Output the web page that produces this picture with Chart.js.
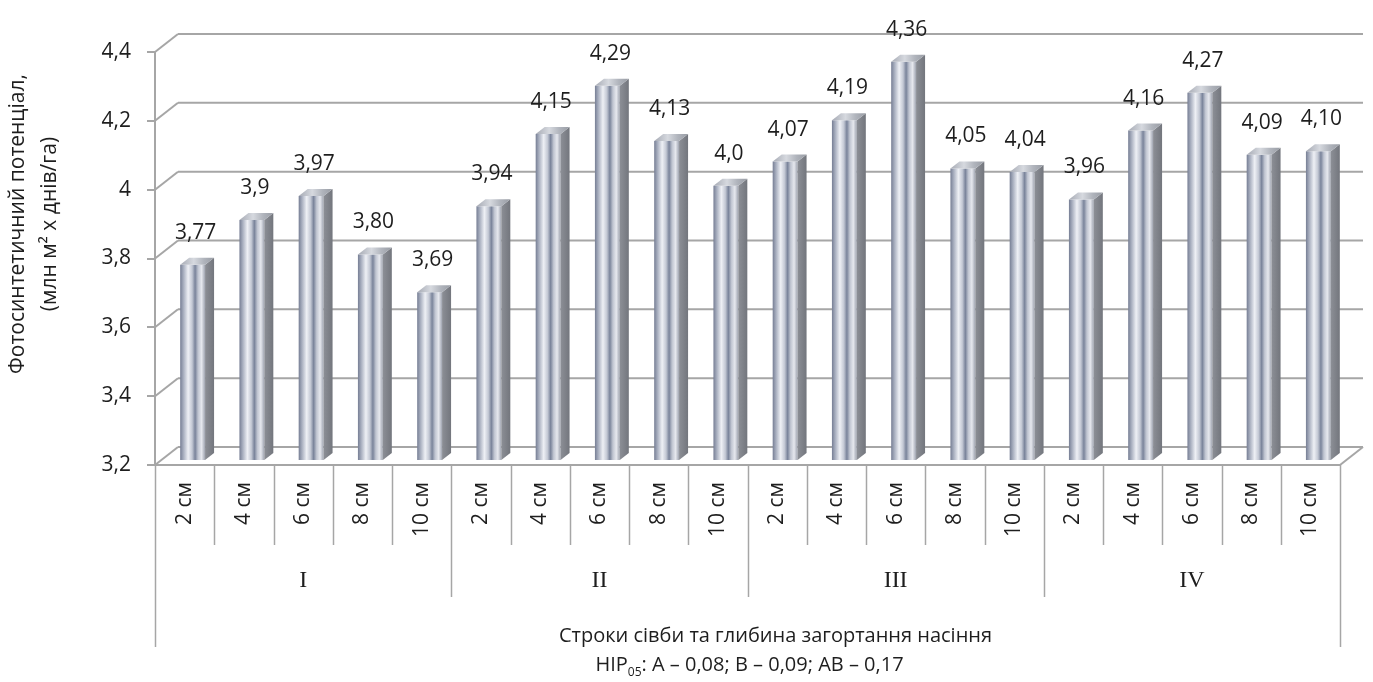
<!DOCTYPE html>
<html>
<head>
<meta charset="utf-8">
<script src="https://cdn.jsdelivr.net/npm/chart.js@4.4.1/dist/chart.umd.min.js"></script>
<style>
html,body{margin:0;padding:0;background:#fff;}
#wrap{width:1373px;height:682px;position:relative;}
</style>
</head>
<body>
<div id="wrap"><canvas id="c" width="1373" height="682"></canvas></div>
<script>
// ---------- DATA ----------
const depths = ['2 см', '4 см', '6 см', '8 см', '10 см'];
const sowingTerms = ['I', 'II', 'III', 'IV'];
const categories = sowingTerms.flatMap(() => depths);
const values = [3.77, 3.90, 3.97, 3.80, 3.69,
                3.94, 4.15, 4.29, 4.13, 4.00,
                4.07, 4.19, 4.36, 4.05, 4.04,
                3.96, 4.16, 4.27, 4.09, 4.10];
const valueLabels = ['3,77', '3,9', '3,97', '3,80', '3,69',
                     '3,94', '4,15', '4,29', '4,13', '4,0',
                     '4,07', '4,19', '4,36', '4,05', '4,04',
                     '3,96', '4,16', '4,27', '4,09', '4,10'];
const yMin = 3.2, yMax = 4.4, yStep = 0.2;
const yTickLabels = ['3,2', '3,4', '3,6', '3,8', '4', '4,2', '4,4'];
const yTitle = ['Фотосинтетичний потенціал,', '(млн м² х днів/га)'];
const xTitle = 'Строки сівби та глибина загортання насіння';
const lsdParts = ['НІР', '05', ': А – 0,08; В – 0,09; АВ – 0,17'];

// ---------- STYLE ----------
const FONT = '"Open Sans", "Noto Sans", sans-serif';
const SERIF = '"Liberation Serif", "DejaVu Serif", serif';
const TXT = '#1e1e1e';
const GRID = '#a6a6a6';
const WALL = {dx: 23, dy: -18};
const BAR3D = {dx: 9, dy: -7};
const SHIFT = {dx: 8, dy: -4};
const BAR_PCT = 0.42;

function frontGradient(ctx, l, r) {
  const g = ctx.createLinearGradient(l, 0, r, 0);
  g.addColorStop(0.00, '#767e94');
  g.addColorStop(0.12, '#a3aabb');
  g.addColorStop(0.32, '#eef0f5');
  g.addColorStop(0.48, '#c3c8d4');
  g.addColorStop(0.60, '#79839a');
  g.addColorStop(0.72, '#c0c5d1');
  g.addColorStop(0.86, '#e6e8ee');
  g.addColorStop(1.00, '#9fa4b0');
  return g;
}

function line(ctx, x1, y1, x2, y2) {
  ctx.beginPath(); ctx.moveTo(x1, y1); ctx.lineTo(x2, y2); ctx.stroke();
}

const excel3d = {
  id: 'excel3d',
  beforeDatasetsDraw(chart) {
    const {ctx, chartArea: a, scales: {x, y}} = chart;
    ctx.save();
    ctx.strokeStyle = GRID;
    ctx.lineWidth = 2;
    // back wall gridlines + side wall diagonals
    y.ticks.forEach(t => {
      const yy = y.getPixelForValue(t.value);
      line(ctx, a.left, yy, a.left + WALL.dx, yy + WALL.dy);
      line(ctx, a.left + WALL.dx, yy + WALL.dy, a.right + WALL.dx, yy + WALL.dy);
    });
    // floor front edge + right edge
    line(ctx, a.left, a.bottom, a.right, a.bottom);
    line(ctx, a.right, a.bottom, a.right + WALL.dx, a.bottom + WALL.dy);
    // category table lines
    const n = categories.length;
    const cw = (a.right - a.left) / n;
    ctx.lineWidth = 1.5;
    for (let i = 0; i <= n; i++) {
      const xx = Math.round(a.left + i * cw) + 0.5;
      let bottom = a.bottom + 80;
      if (i % depths.length === 0) bottom = a.bottom + 132;
      if (i === 0 || i === n) bottom = a.bottom + 182;
      line(ctx, xx, a.bottom, xx, bottom);
    }
    ctx.restore();
    ctx.save();
    ctx.translate(SHIFT.dx, SHIFT.dy);
  },
  afterDatasetsDraw(chart) {
    const {ctx} = chart;
    const meta = chart.getDatasetMeta(0);
    meta.data.forEach(el => {
      const l = el.x - el.width / 2, r = el.x + el.width / 2;
      const top = el.y, bot = el.base;
      // side face
      const gs = ctx.createLinearGradient(r, 0, r + BAR3D.dx, 0);
      gs.addColorStop(0, '#8c8f96');
      gs.addColorStop(1, '#73767d');
      ctx.fillStyle = gs;
      ctx.beginPath();
      ctx.moveTo(r, top); ctx.lineTo(r + BAR3D.dx, top + BAR3D.dy);
      ctx.lineTo(r + BAR3D.dx, bot + BAR3D.dy); ctx.lineTo(r, bot);
      ctx.closePath(); ctx.fill();
      // top face
      const gt = ctx.createLinearGradient(l, 0, r + BAR3D.dx, 0);
      gt.addColorStop(0, '#a6aab4');
      gt.addColorStop(0.4, '#d6d9df');
      gt.addColorStop(0.7, '#b0b4bc');
      gt.addColorStop(1, '#989ca4');
      ctx.fillStyle = gt;
      ctx.beginPath();
      ctx.moveTo(l, top); ctx.lineTo(l + BAR3D.dx, top + BAR3D.dy);
      ctx.lineTo(r + BAR3D.dx, top + BAR3D.dy); ctx.lineTo(r, top);
      ctx.closePath(); ctx.fill();
    });
    ctx.restore();
    // value labels
    ctx.save();
    ctx.fillStyle = TXT;
    ctx.font = '21px ' + FONT;
    ctx.textAlign = 'center';
    ctx.textBaseline = 'middle';
    meta.data.forEach((el, i) => {
      ctx.fillText(valueLabels[i], el.x + SHIFT.dx + 3, el.y + SHIFT.dy - 32);
    });
    ctx.restore();
  },
  afterDraw(chart) {
    const {ctx, chartArea: a, scales: {x}} = chart;
    ctx.save();
    ctx.fillStyle = TXT;
    ctx.textBaseline = 'middle';
    ctx.textAlign = 'center';
    // group labels
    ctx.font = '24px ' + SERIF;
    sowingTerms.forEach((g, gi) => {
      const x1 = x.getPixelForValue(gi * depths.length);
      const x2 = x.getPixelForValue(gi * depths.length + depths.length - 1);
      ctx.fillText(g, (x1 + x2) / 2, a.bottom + 116);
    });
    // y title
    ctx.font = '21px ' + FONT;
    ctx.save();
    ctx.translate(18, 224);
    ctx.rotate(-Math.PI / 2);
    ctx.fillText(yTitle[0], 0, 0);
    ctx.fillText(yTitle[1], 0, 32);
    ctx.restore();
    // x title
    ctx.font = '20px ' + FONT;
    const cx = (a.left + a.right) / 2;
    ctx.fillText(xTitle, cx + 28, a.bottom + 171);
    // LSD line with subscript
    const big = '20px ' + FONT, small = '12px ' + FONT;
    ctx.font = big; const w0 = ctx.measureText(lsdParts[0]).width;
    const w2 = ctx.measureText(lsdParts[2]).width;
    ctx.font = small; const w1 = ctx.measureText(lsdParts[1]).width;
    let sx = cx + 2 - (w0 + w1 + w2) / 2;
    const by = a.bottom + 200;
    ctx.textAlign = 'left';
    ctx.font = big; ctx.fillText(lsdParts[0], sx, by); sx += w0;
    ctx.font = small; ctx.fillText(lsdParts[1], sx, by + 8); sx += w1;
    ctx.font = big; ctx.fillText(lsdParts[2], sx, by);
    ctx.restore();
  }
};

const ctx = document.getElementById('c').getContext('2d');
new Chart(ctx, {
  type: 'bar',
  data: {
    labels: categories,
    datasets: [{
      data: values,
      base: yMin,
      borderWidth: 0,
      categoryPercentage: 1,
      barPercentage: BAR_PCT,
      clip: false,
      backgroundColor: c => {
        const ch = c.chart, xs = ch.scales.x;
        if (!xs || c.dataIndex == null || !ch.chartArea) return '#b4b9c4';
        const cx = xs.getPixelForValue(c.dataIndex);
        const w = (xs.right - xs.left) / categories.length * BAR_PCT;
        return frontGradient(ch.ctx, cx - w / 2, cx + w / 2);
      }
    }]
  },
  options: {
    responsive: false,
    animation: false,
    devicePixelRatio: 1,
    layout: {padding: {left: 0, right: 33, top: 52, bottom: 0}},
    plugins: {legend: {display: false}, tooltip: {enabled: false}},
    scales: {
      x: {
        grid: {display: false, drawTicks: false},
        border: {display: false},
        ticks: {autoSkip: false, minRotation: 90, maxRotation: 90, padding: 17,
                font: {family: FONT, size: 21}, color: TXT},
        afterFit: s => { s.height = 217; }
      },
      y: {
        min: yMin, max: yMax,
        ticks: {stepSize: yStep, padding: 16, font: {family: FONT, size: 21}, color: TXT,
                callback: (v, i) => yTickLabels[i]},
        grid: {drawOnChartArea: false, drawTicks: true, tickLength: 8, color: GRID, lineWidth: 2},
        border: {display: true, color: GRID, width: 2},
        afterFit: s => { s.width = 155; }
      }
    }
  },
  plugins: [excel3d]
});
</script>
</body>
</html>
